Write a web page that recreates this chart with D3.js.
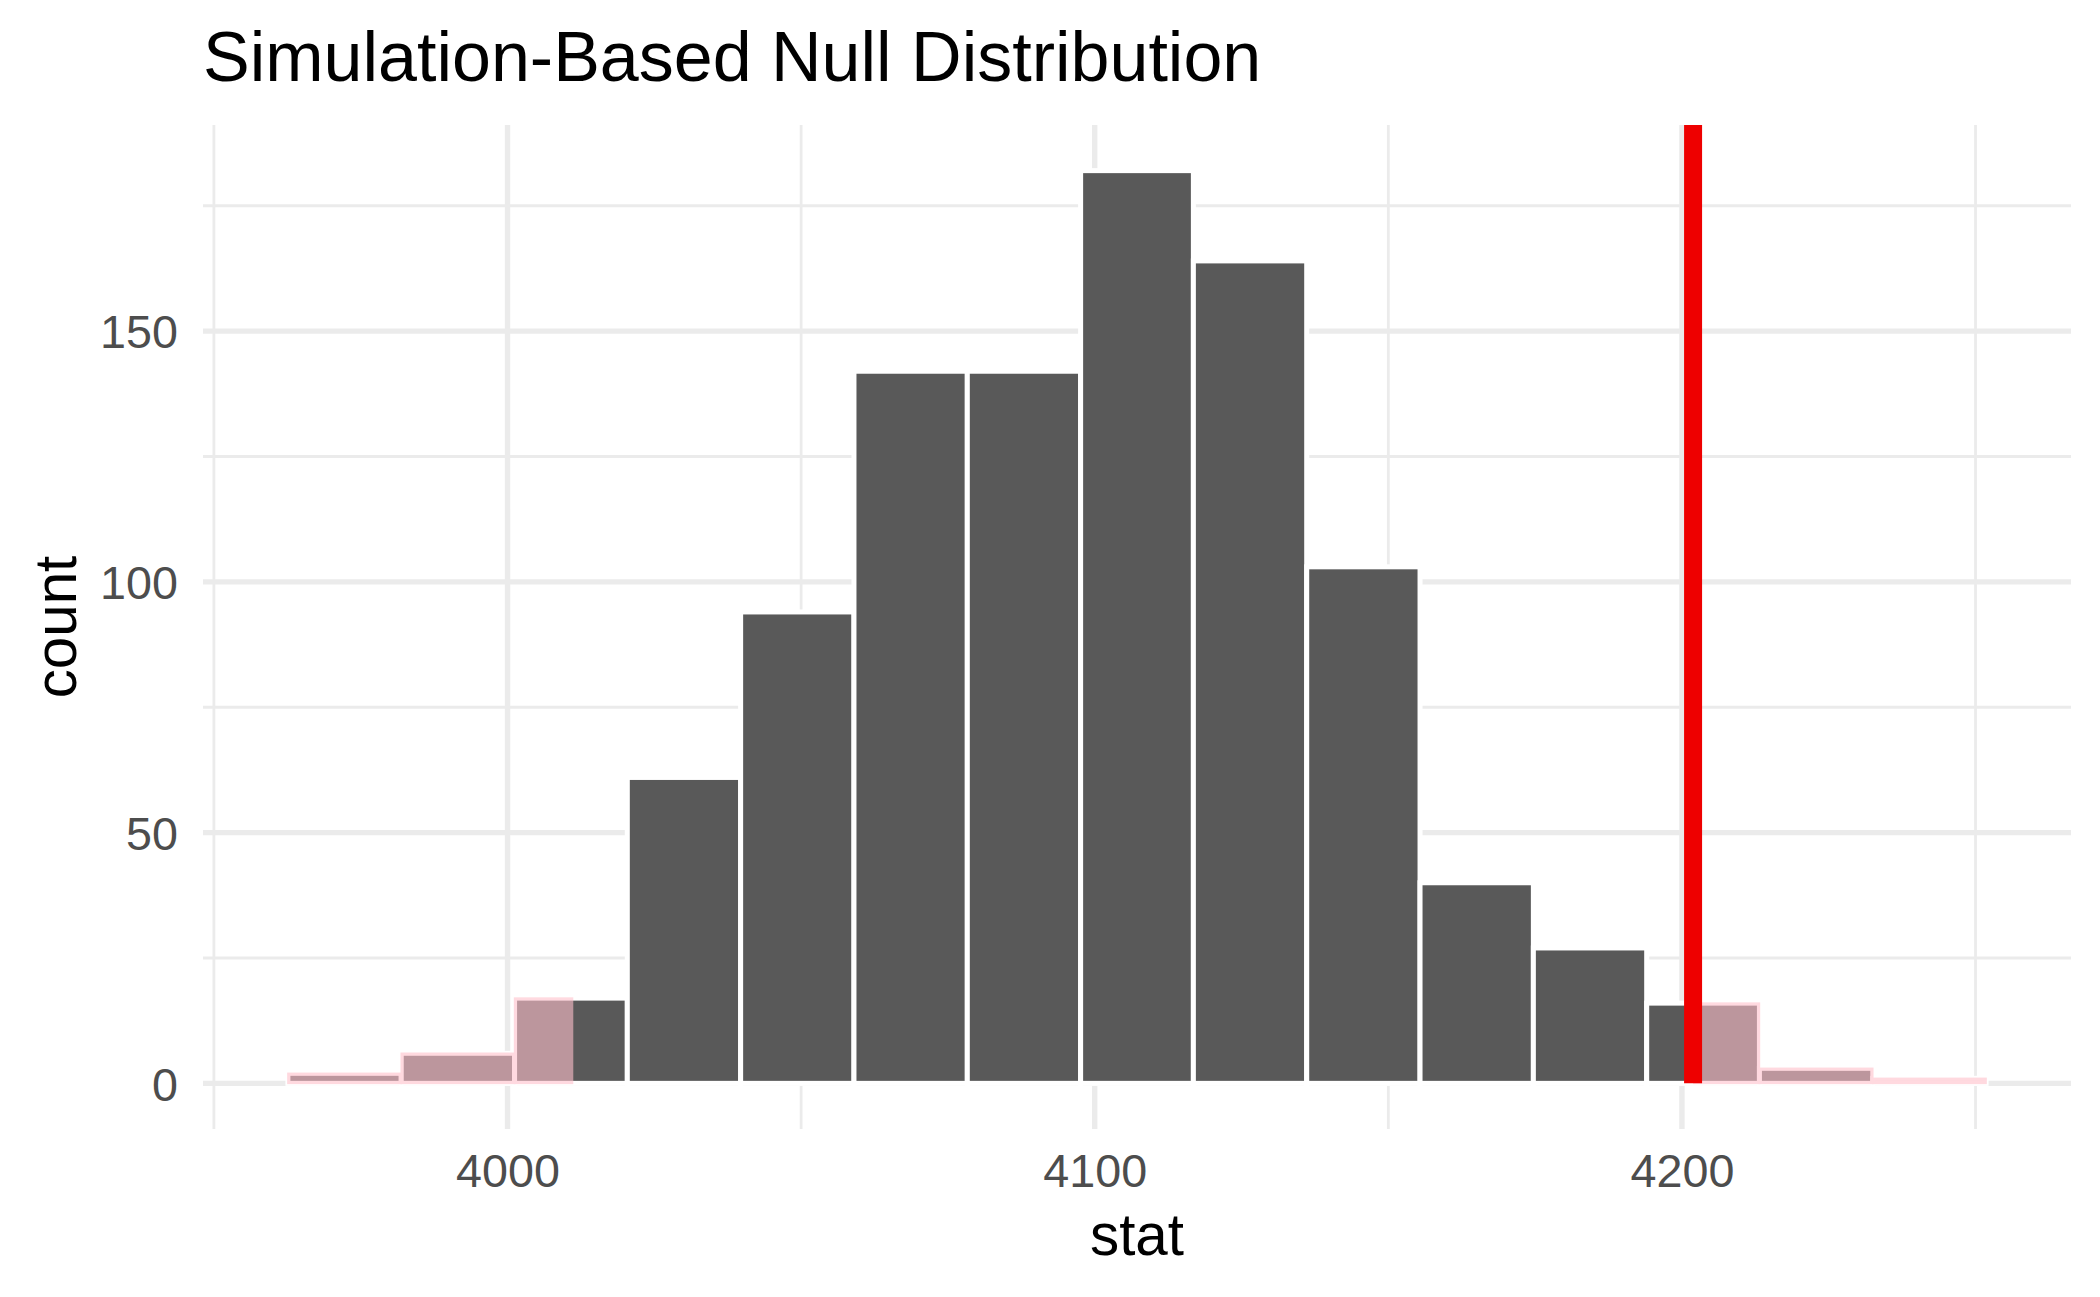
<!DOCTYPE html>
<html>
<head>
<meta charset="utf-8">
<script src="https://cdn.jsdelivr.net/npm/d3@7"></script>
<style>
  html, body { margin: 0; padding: 0; background: #ffffff; }
  svg { display: block; }
  text { font-family: "Liberation Sans", Arial, Helvetica, sans-serif; }
</style>
</head>
<body>
<svg id="chart" width="2100" height="1297"></svg>
<script>
// ---- data ----
const binEdges = [3962.6, 3981.9, 4001.2, 4020.4, 4039.7, 4059.0, 4078.3, 4097.6,
                  4116.8, 4136.1, 4155.4, 4174.7, 4194.0, 4213.2, 4232.5, 4251.8];
const counts = [2, 6, 17, 61, 94, 142, 142, 182, 164, 103, 40, 27, 16, 3, 1];
const obsStat = 4201.9;          // observed statistic (red line)
const shadeLeftEnd = 4011.2;     // mirrored boundary of the left shaded tail
const xMajorTicks = [4000, 4100, 4200];
const xMinorTicks = [3950, 4050, 4150, 4250];
const yMajorTicks = [0, 50, 100, 150];
const yMinorTicks = [25, 75, 125, 175];
const titleText = "Simulation-Based Null Distribution";
const xLabel = "stat";
const yLabel = "count";

// ---- layout ----
const W = 2100, H = 1297;
const panel = { left: 203, right: 2071, top: 125, bottom: 1129 };

const bins = counts.map((c, i) => ({ x0: binEdges[i], x1: binEdges[i + 1], count: c }));

const xDataMin = binEdges[0], xDataMax = binEdges[binEdges.length - 1];
const xPad = (xDataMax - xDataMin) * 0.05;
const x = d3.scaleLinear()
  .domain([xDataMin - xPad, xDataMax + xPad])
  .range([panel.left, panel.right]);

const yMax = d3.max(counts);
const yPad = yMax * 0.05;
const y = d3.scaleLinear()
  .domain([-yPad, yMax + yPad])
  .range([panel.bottom, panel.top]);

const svg = d3.select("#chart");
svg.append("rect").attr("width", W).attr("height", H).attr("fill", "#ffffff");

const grid = svg.append("g");
const gridColor = "#EBEBEB";
// minor grid
grid.selectAll(".xminor").data(xMinorTicks).enter().append("line")
  .attr("x1", d => x(d)).attr("x2", d => x(d))
  .attr("y1", panel.top).attr("y2", panel.bottom)
  .attr("stroke", gridColor).attr("stroke-width", 2.8);
grid.selectAll(".yminor").data(yMinorTicks).enter().append("line")
  .attr("y1", d => y(d)).attr("y2", d => y(d))
  .attr("x1", panel.left).attr("x2", panel.right)
  .attr("stroke", gridColor).attr("stroke-width", 2.8);
// major grid
grid.selectAll(".xmajor").data(xMajorTicks).enter().append("line")
  .attr("x1", d => x(d)).attr("x2", d => x(d))
  .attr("y1", panel.top).attr("y2", panel.bottom)
  .attr("stroke", gridColor).attr("stroke-width", 5.4);
grid.selectAll(".ymajor").data(yMajorTicks).enter().append("line")
  .attr("y1", d => y(d)).attr("y2", d => y(d))
  .attr("x1", panel.left).attr("x2", panel.right)
  .attr("stroke", gridColor).attr("stroke-width", 5.4);

// histogram bars
const barStroke = 5;
svg.append("g").selectAll("rect").data(bins).enter().append("rect")
  .attr("x", d => x(d.x0))
  .attr("width", d => x(d.x1) - x(d.x0))
  .attr("y", d => y(d.count))
  .attr("height", d => y(0) - y(d.count))
  .attr("fill", "#595959")
  .attr("stroke", "#ffffff")
  .attr("stroke-width", barStroke);

// shaded p-value regions (clipped overlays)
const defs = svg.append("defs");
const clip = defs.append("clipPath").attr("id", "shadeClip");
clip.append("rect")
  .attr("x", 0).attr("y", 0)
  .attr("width", x(shadeLeftEnd)).attr("height", H);
clip.append("rect")
  .attr("x", x(obsStat)).attr("y", 0)
  .attr("width", W - x(obsStat)).attr("height", H);

const shade = svg.append("g")
  .attr("clip-path", "url(#shadeClip)")
  .attr("opacity", 0.6);
shade.selectAll("rect").data(bins).enter().append("rect")
  .attr("x", d => x(d.x0))
  .attr("width", d => x(d.x1) - x(d.x0))
  .attr("y", d => y(d.count))
  .attr("height", d => y(0) - y(d.count))
  .attr("fill", "#FFC0CB")
  .attr("stroke", "#FFC0CB")
  .attr("stroke-width", 1.5);

// observed statistic line
svg.append("line")
  .attr("x1", x(obsStat)).attr("x2", x(obsStat))
  .attr("y1", y(0)).attr("y2", panel.top)
  .attr("stroke", "#EE0000")
  .attr("stroke-width", 18);

// axes (text only, ggplot minimal style)
const xAxis = d3.axisBottom(x).tickValues(xMajorTicks).tickFormat(d3.format("d"))
  .tickSize(0).tickPadding(0);
const gx = svg.append("g").attr("transform", `translate(0, ${panel.bottom})`).call(xAxis);
gx.select(".domain").remove();
gx.selectAll("text")
  .attr("y", 58).attr("dy", 0)
  .attr("font-size", 46.7)
  .attr("fill", "#4D4D4D")
  .style("font-family", '"Liberation Sans", Arial, Helvetica, sans-serif');

const yAxis = d3.axisLeft(y).tickValues(yMajorTicks).tickFormat(d3.format("d"))
  .tickSize(0).tickPadding(0);
const gy = svg.append("g").attr("transform", `translate(${178}, 0)`).call(yAxis);
gy.select(".domain").remove();
gy.selectAll("text")
  .attr("x", 0).attr("dy", "0.36em")
  .attr("font-size", 46.7)
  .attr("fill", "#4D4D4D")
  .style("font-family", '"Liberation Sans", Arial, Helvetica, sans-serif');

// titles
svg.append("text")
  .attr("x", 203).attr("y", 81)
  .attr("font-size", 70)
  .attr("fill", "#000000")
  .text(titleText);

svg.append("text")
  .attr("x", (panel.left + panel.right) / 2).attr("y", 1255)
  .attr("text-anchor", "middle")
  .attr("font-size", 58.3)
  .attr("fill", "#000000")
  .text(xLabel);

svg.append("text")
  .attr("transform", `translate(76, ${(panel.top + panel.bottom) / 2}) rotate(-90)`)
  .attr("text-anchor", "middle")
  .attr("font-size", 58.3)
  .attr("fill", "#000000")
  .text(yLabel);
</script>
</body>
</html>
